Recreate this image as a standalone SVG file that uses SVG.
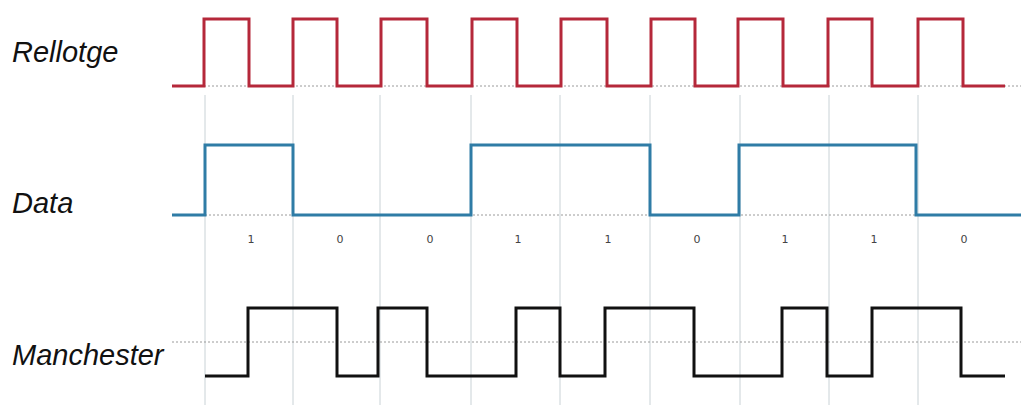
<svg xmlns="http://www.w3.org/2000/svg" width="1021" height="405" viewBox="0 0 1021 405">
<style>
.lbl{font-family:"Liberation Sans",Arial,sans-serif;font-style:italic;font-size:29px;fill:#111}
.bit{font-family:"DejaVu Sans",Verdana,sans-serif;font-size:11px;fill:#444;text-anchor:middle}
.grid{stroke:#c9d2d6;stroke-width:1}
.dot{stroke:#9a9a9a;stroke-width:1;stroke-dasharray:2 2;fill:none}
.wave{fill:none;stroke-width:3;stroke-linejoin:miter;stroke-linecap:butt}
</style>
<rect width="1021" height="405" fill="#fff"/>
<g id="grid">
<line class="grid" x1="205" y1="95" x2="205" y2="405"/>
<line class="grid" x1="293" y1="95" x2="293" y2="405"/>
<line class="grid" x1="380" y1="95" x2="380" y2="405"/>
<line class="grid" x1="471" y1="95" x2="471" y2="405"/>
<line class="grid" x1="560" y1="95" x2="560" y2="405"/>
<line class="grid" x1="650" y1="95" x2="650" y2="405"/>
<line class="grid" x1="740" y1="95" x2="740" y2="405"/>
<line class="grid" x1="829" y1="95" x2="829" y2="405"/>
<line class="grid" x1="918" y1="95" x2="918" y2="405"/>
</g>
<g id="baselines">
<line class="dot" x1="172" y1="86" x2="1021" y2="86"/>
<line class="dot" x1="205" y1="215" x2="1000" y2="215"/>
<line class="dot" x1="172" y1="342" x2="1021" y2="342"/>
</g>
<g id="rellotge">
<text class="lbl" x="12" y="62">Rellotge</text>
<path class="wave" stroke="#b5283a" d="M172 86H204V19H249V86H293V19H337V86H381V19H427V86H472V19H517V86H561V19H607V86H651V19H695V86H738V19H783V86H828V19H872V86H918V19H963V86H1005"/>
</g>
<g id="data">
<text class="lbl" x="12" y="213">Data</text>
<path class="wave" stroke="#2f7ca6" d="M172 215H205V145H293V215H471V145H650V215H739V145H916V215H1021"/>
</g>
<g id="bits">
<text class="bit" x="251" y="243">1</text>
<text class="bit" x="340" y="243">0</text>
<text class="bit" x="430" y="243">0</text>
<text class="bit" x="518" y="243">1</text>
<text class="bit" x="608" y="243">1</text>
<text class="bit" x="697" y="243">0</text>
<text class="bit" x="785" y="243">1</text>
<text class="bit" x="874" y="243">1</text>
<text class="bit" x="964" y="243">0</text>
</g>
<g id="manchester">
<text class="lbl" x="12" y="365">Manchester</text>
<path class="wave" stroke="#111" d="M205 376H248V308H337V376H378V308H427V376H516V308H560V376H605V308H694V376H782V308H827V376H872V308H961V376H1005"/>
</g>
</svg>
